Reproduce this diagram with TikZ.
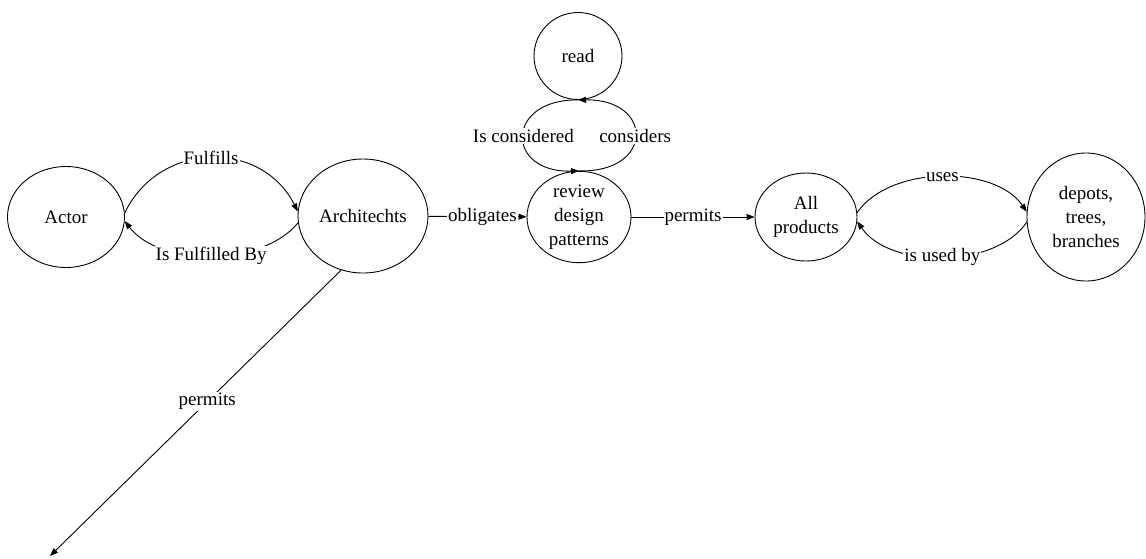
\documentclass[tikz,border=0pt]{standalone}
\usepackage{fontspec}
\setmainfont{Liberation Serif}
\usetikzlibrary{shapes.geometric,arrows.meta}
\begin{document}
\begin{tikzpicture}[x=1pt,y=-1pt,
  every node/.style={font=\fontsize{19}{24}\selectfont},
  state/.style={draw, ellipse, line width=0.9pt, inner sep=0pt, align=center},
  lbl/.style={fill=white, inner sep=1pt},
  edge/.style={line width=0.9pt, -{Triangle[length=8pt,width=6pt]}},
]
\useasboundingbox (0,0) rectangle (1146,558);

% concepts
\node[state, minimum width=117pt, minimum height=101pt] (actor)  at (66,217)   {Actor};
\node[state, minimum width=130pt, minimum height=114pt] (arch)   at (363,216)  {Architechts};
\node[state, minimum width=88pt,  minimum height=87pt]  (read)   at (578,56)   {read};
\node[state, minimum width=104pt, minimum height=88pt]  (review) at (579,217)  {review\\design\\patterns};
\node[state, minimum width=102pt, minimum height=88pt]  (prod)   at (806,217)  {All\\products};
\node[state, minimum width=118pt, minimum height=128pt] (depots) at (1086,217) {depots,\\trees,\\branches};
\coordinate (pend) at (50,556);

% relations
\draw[edge] (actor.4) .. controls (160,140) and (262,140) .. node[lbl]{Fulfills} (arch.176);
\draw[edge] (arch.186) .. controls (262,267) and (160,267) .. node[lbl]{Is Fulfilled By} (actor.-4);
\draw[edge] (arch) -- node[lbl,pos=0.55]{obligates} (review);
\draw[edge] (review) -- node[lbl]{permits} (prod);
\draw[edge] (prod.5) .. controls (890,165) and (995,165) .. node[lbl]{uses} (depots.175);
\draw[edge] (depots.185) .. controls (995,269) and (890,269) .. node[lbl]{is used by} (prod.-5);
\draw[edge] (read.south) .. controls (505,99) and (505,173) .. node[lbl]{Is considered} (review.north);
\draw[edge] (review.north) .. controls (654,173) and (654,99) .. node[lbl]{considers} (read.south);
\draw[edge] (arch.248) -- node[lbl,pos=0.46]{permits} (pend);
\end{tikzpicture}
\end{document}
